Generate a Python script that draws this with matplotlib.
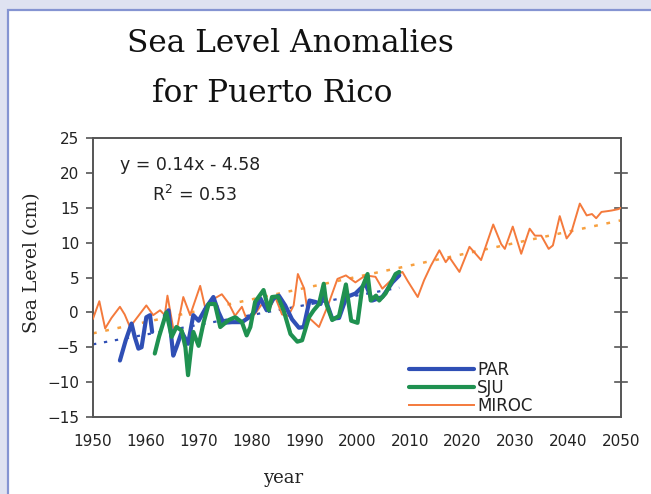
import numpy as np
import matplotlib
matplotlib.use("Agg")
import matplotlib.pyplot as plt
from matplotlib.patches import Rectangle

# ---------------- data ----------------
miroc_year = [1950.0, 1951.2, 1952.3, 1953.5, 1955.1, 1956.0, 1957.0, 1958.5, 1960.1, 1961.4,
              1962.7, 1963.6, 1964.1, 1965.2, 1966.0, 1967.1, 1968.4, 1970.3, 1971.3, 1972.8,
              1974.4, 1975.7, 1976.9, 1978.2, 1979.1, 1980.7, 1982.0, 1983.3, 1984.5, 1985.8,
              1987.0, 1988.0, 1988.8, 1990.0, 1990.8, 1992.8, 1994.5, 1996.3, 1997.9, 1999.7,
              2001.6, 2003.5, 2004.8, 2007.4, 2008.6, 2009.6, 2011.5, 2012.7, 2014.0, 2015.6,
              2016.8, 2017.5, 2019.4, 2021.3, 2023.5, 2025.8, 2027.3, 2028.0, 2029.5, 2031.1,
              2032.7, 2033.7, 2034.9, 2036.3, 2037.1, 2038.4, 2039.7, 2040.6, 2042.2, 2043.5,
              2044.5, 2045.3, 2046.3, 2047.3, 2048.2, 2049.5, 2050.0]
miroc_val = [-0.9, 1.6, -2.3, -0.8, 0.8, -0.3, -2.1, -0.6, 1.0, -0.4,
             0.3, -0.4, 2.4, -2.3, -2.0, 2.2, -0.4, 3.8, 0.5, 1.9,
             2.6, 1.3, -0.5, 0.8, -1.0, -0.2, 1.2, 0.3, 2.2, -0.3,
             -0.5, 1.0, 5.5, 3.4, -0.7, -2.1, 1.0, 4.8, 5.3, 4.3,
             5.3, 5.1, 3.4, 5.3, 5.8, 4.5, 2.2, 4.6, 6.7, 8.9,
             7.2, 7.9, 5.8, 9.4, 7.5, 12.6, 9.8, 9.1, 12.3, 8.4,
             12.0, 11.0, 11.0, 9.1, 9.6, 13.8, 10.6, 11.5, 15.6, 13.9,
             14.1, 13.5, 14.4, 14.5, 14.6, 14.8, 15.0]

par_year = [1955.1, 1956.2, 1957.3, 1957.9, 1958.6, 1959.2, 1960.1, 1960.8, 1961.2, 1962.4,
            1963.6, 1964.3, 1965.2, 1965.8, 1966.8, 1968.0, 1969.0, 1970.0, 1971.5, 1972.8,
            1973.8, 1974.7, 1976.3, 1978.2, 1979.8, 1980.7, 1981.7, 1982.9, 1984.2, 1985.2,
            1986.4, 1987.7, 1989.0, 1989.9, 1991.0, 1992.1, 1993.1, 1993.6, 1995.3, 1996.6,
            1998.0, 1999.7, 2001.6, 2002.9, 2004.8, 2006.7, 2008.0]
par_val = [-6.9, -4.0, -1.6, -3.5, -5.2, -5.0, -0.7, -0.4, -2.8, np.nan,
           -0.5, 0.3, -6.2, -5.0, -2.8, -4.5, -0.4, -1.2, 0.8, 2.2,
           0.0, -1.5, -1.4, -1.4, -0.6, 0.2, 2.0, 0.3, 2.0, 2.4,
           1.0, -1.0, -2.2, -2.1, 1.7, 1.5, 1.2, 2.8, -0.9, -0.8,
           2.2, 2.7, 4.1, 1.7, 2.2, 4.3, 5.3]

sju_year = [1961.7, 1962.5, 1963.9, 1964.9, 1965.8, 1966.8, 1967.5, 1968.0, 1968.6, 1969.0,
            1970.0, 1970.9, 1971.9, 1973.1, 1974.1, 1975.7, 1976.9, 1978.2, 1979.1, 1979.8,
            1980.7, 1982.3, 1983.3, 1983.9, 1985.0, 1986.1, 1987.4, 1988.7, 1989.6, 1990.9,
            1991.8, 1992.8, 1993.7, 1994.2, 1995.3, 1996.6, 1997.9, 1998.9, 2000.1, 2001.0,
            2002.0, 2002.6, 2003.6, 2004.2, 2005.4, 2007.3, 2008.0]
sju_val = [-5.9, -3.5, 0.0, -3.5, -2.1, -2.6, -5.0, -9.0, -5.0, -2.8,
           -4.8, -1.6, 1.2, 1.2, -2.1, -1.1, -0.7, -1.4, -3.3, -2.1,
           1.5, 3.2, 0.3, 2.2, 2.3, 0.3, -3.1, -4.2, -4.0, -0.7,
           0.3, 1.2, 4.1, 1.2, -1.1, -0.5, 4.0, -1.2, -1.5, 3.6,
           5.5, 1.7, 2.4, 1.7, 2.7, 5.5, 5.8]

trend_slope = 0.14
trend_icpt = -4.58
trend_start, trend_end = 1950, 2008

x_ticks = [1950, 1960, 1970, 1980, 1990, 2000, 2010, 2020, 2030, 2040, 2050]
y_ticks = [-15, -10, -5, 0, 5, 10, 15, 20, 25]

# ---------------- style ----------------
c_par = "#2f4fb5"
c_sju = "#1f9150"
c_miroc = "#f47a3c"
txt = "#222222"

W, H = 651, 494
fig = plt.figure(figsize=(W / 100, H / 100), dpi=100)
fig.patch.set_facecolor("#dfe2f1")
fig.patches.append(Rectangle((8 / W, -0.2), 1.5, 1 - 10 / H + 0.2,
                             transform=fig.transFigure, facecolor="white",
                             edgecolor="#8594d2", lw=1.6, zorder=-1))

ax = fig.add_axes([93 / W, 1 - 417 / H, (621 - 93) / W, (417 - 138) / H])
ax.set_facecolor("white")

# trends
tx = np.array([trend_start, trend_end])
ax.plot(tx, trend_slope * (tx - 1950) + trend_icpt, color=c_par, lw=1.6,
        ls=(0, (1.5, 3.5)), zorder=2)
my = np.array(miroc_year)
coef = np.polyfit(my - 1950, np.array(miroc_val), 1)
mx = np.array([1950, 2050])
ax.plot(mx, np.polyval(coef, mx - 1950), color="#f7a040", lw=1.8,
        ls=(0, (1.5, 3.5)), zorder=2)

ax.plot(miroc_year, miroc_val, color=c_miroc, lw=1.4, zorder=3, label="MIROC",
        solid_joinstyle="round")
ax.plot(par_year, par_val, color=c_par, lw=3.0, zorder=4, label="PAR",
        solid_joinstyle="round", solid_capstyle="round")
ax.plot(sju_year, sju_val, color=c_sju, lw=3.0, zorder=5, label="SJU",
        solid_joinstyle="round", solid_capstyle="round")

ax.set_xlim(1950, 2050)
ax.set_ylim(-15, 25)
ax.set_xticks(x_ticks)
ax.set_yticks(y_ticks)
ax.tick_params(axis="x", length=0, pad=12, labelsize=11, labelfontfamily="DejaVu Sans",
               labelcolor=txt)
ax.tick_params(axis="y", direction="out", length=5, width=1.2, color="#555555",
               pad=5, labelsize=11, labelfontfamily="DejaVu Sans", labelcolor=txt)
for s in ax.spines.values():
    s.set_color("#555555")
    s.set_linewidth(1.4)

# right-side crossing ticks
for v in y_ticks[1:-1]:
    ax.plot([0.989, 1.011], [v, v], transform=ax.get_yaxis_transform(), color="#555555",
            lw=1.2, clip_on=False)

# equation text
ax.text(0.052, 0.905, "y = 0.14x - 4.58", transform=ax.transAxes, fontsize=12.5,
        family="DejaVu Sans", va="center", ha="left", color=txt)
ax.text(0.112, 0.797, "R$^{2}$ = 0.53", transform=ax.transAxes, fontsize=12.5,
        family="DejaVu Sans", va="center", ha="left", color=txt)

h = {l.get_label(): l for l in ax.get_lines() if l.get_label() in ("PAR", "SJU", "MIROC")}
leg = ax.legend([h["PAR"], h["SJU"], h["MIROC"]], ["PAR", "SJU", "MIROC"],
                loc="upper left", bbox_to_anchor=(0.582, 0.232), frameon=False,
                borderpad=0, handlelength=3.9, handletextpad=0.2, labelspacing=0.0,
                prop={"family": "DejaVu Sans", "size": 12})
for t in leg.get_texts():
    t.set_color(txt)

# titles / labels
fig.text(290 / W, 1 - 52 / H, "Sea Level Anomalies", ha="center", va="baseline",
         family="DejaVu Serif", fontsize=22.5, color="#111111")
fig.text(272 / W, 1 - 102 / H, "for Puerto Rico", ha="center", va="baseline",
         family="DejaVu Serif", fontsize=22.5, color="#111111")
fig.text(32 / W, 1 - 263 / H, "Sea Level (cm)", rotation=90, ha="center", va="center",
         family="DejaVu Serif", fontsize=13.5, color=txt)
fig.text(283 / W, 1 - 478 / H, "year", ha="center", va="center",
         family="DejaVu Serif", fontsize=13, color=txt)

fig.savefig("out.png", dpi=100, facecolor=fig.get_facecolor())
